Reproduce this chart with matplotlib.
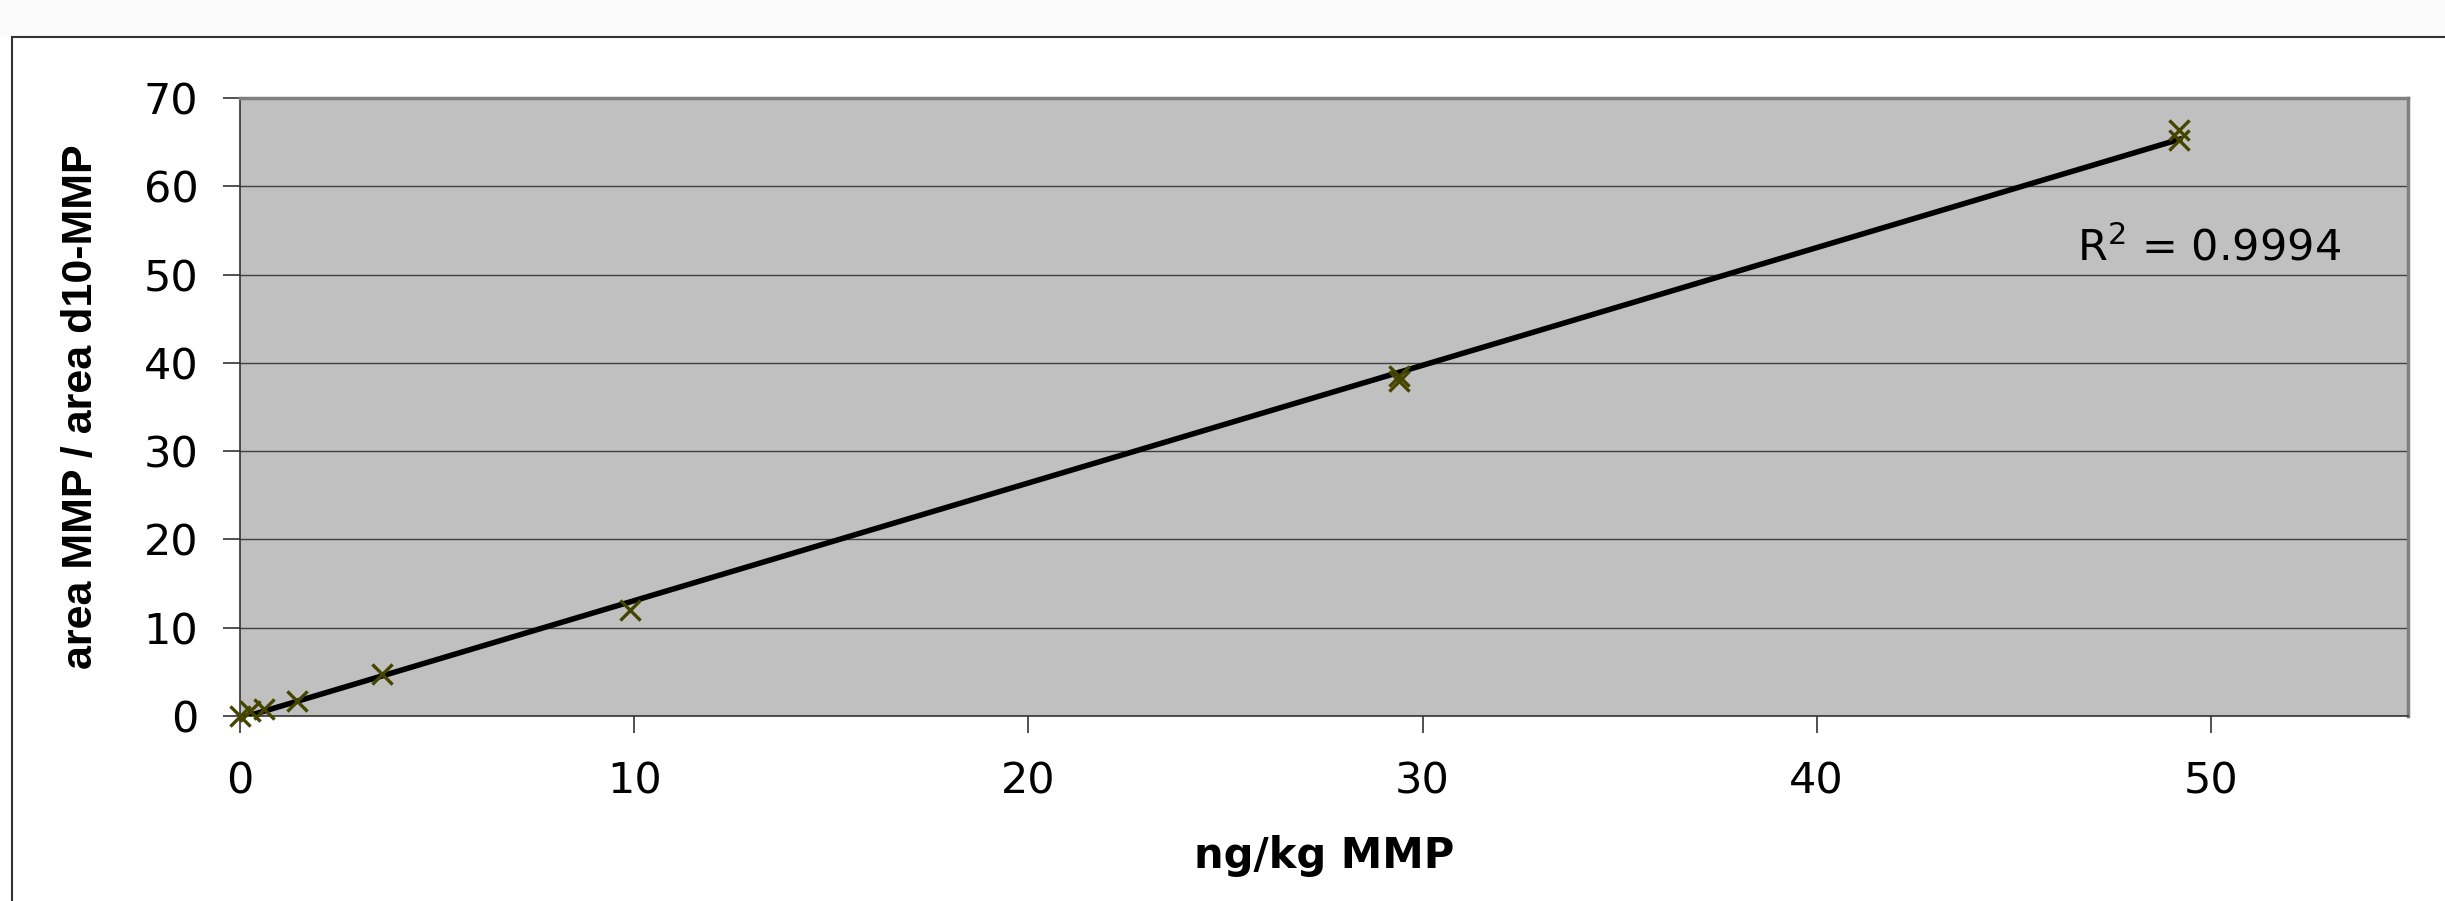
# Calibration curve: MMP area ratio vs concentration
import numpy as np
import matplotlib.pyplot as plt
from matplotlib.patches import Rectangle
from matplotlib.lines import Line2D

plt.rcParams['font.family'] = ['DejaVu Sans']
plt.rcParams['mathtext.default'] = 'regular'

# data
conc = [0, 0.25, 0.6, 1.45, 3.6, 9.9, 29.4, 29.4, 49.2, 49.2]
ratio = [0, 0.6, 0.75, 1.7, 4.8, 12.0, 38.0, 38.5, 65.2, 66.4]
r2_text = "R$^2$ = 0.9994"
x_ticks = [0, 10, 20, 30, 40, 50]
y_ticks = [0, 10, 20, 30, 40, 50, 60, 70]

W, H = 2445, 901
fig = plt.figure(figsize=(W / 100, H / 100), dpi=100)
fig.patch.set_facecolor('white')

# light strip on top and the outer chart frame
fig.patches.append(Rectangle((0, 1 - 36 / H), 1, 36 / H, transform=fig.transFigure,
                             facecolor='#fbfbfb', edgecolor='none', zorder=0))
fig.lines.append(Line2D([12 / W, 1], [1 - 37 / H, 1 - 37 / H], transform=fig.transFigure,
                        color='#333333', lw=1.5))
fig.lines.append(Line2D([12 / W, 12 / W], [0, 1 - 37 / H], transform=fig.transFigure,
                        color='#333333', lw=1.5))

ax = fig.add_axes([240 / W, 1 - 716 / H, (2408 - 240) / W, (716 - 98) / H])
ax.set_facecolor('#c0c0c0')

# linear trendline over the points
coef = np.polyfit(conc, ratio, 1)
xs = np.array([0, max(conc)])
ax.plot(xs, np.polyval(coef, xs), color='black', lw=4.0, zorder=3)

ax.scatter(conc, ratio, marker='x', s=210, color='#454500', linewidths=2.4,
           zorder=4, clip_on=False)

ax.set_xlim(0, 55)
ax.set_ylim(0, 70)
ax.set_xticks(x_ticks)
ax.set_yticks(y_ticks)
ax.yaxis.grid(True, color='#404040', lw=1.0)
ax.set_axisbelow(True)

for side in ['top', 'right']:
    ax.spines[side].set_color('#808080')
    ax.spines[side].set_linewidth(2.5)
for side in ['left', 'bottom']:
    ax.spines[side].set_color('#333333')
    ax.spines[side].set_linewidth(1.2)

ax.tick_params(axis='both', labelsize=31, length=12, width=1.2, color='#333333')
ax.tick_params(axis='y', pad=18)
ax.tick_params(axis='x', pad=20)

ax.set_xlabel('ng/kg MMP', fontsize=30, fontweight='bold', va='center')
ax.xaxis.set_label_coords(0.5, (716 - 856) / 618)
ax.set_ylabel('area MMP / area d10-MMP', fontsize=31, fontweight='bold', va='center',
              family='Liberation Sans')
ax.yaxis.set_label_coords((81 - 240) / 2168, 0.5)

ax.text(46.6, 53, r2_text, fontsize=31, va='center', ha='left')

fig.savefig('out.png', dpi=100)
